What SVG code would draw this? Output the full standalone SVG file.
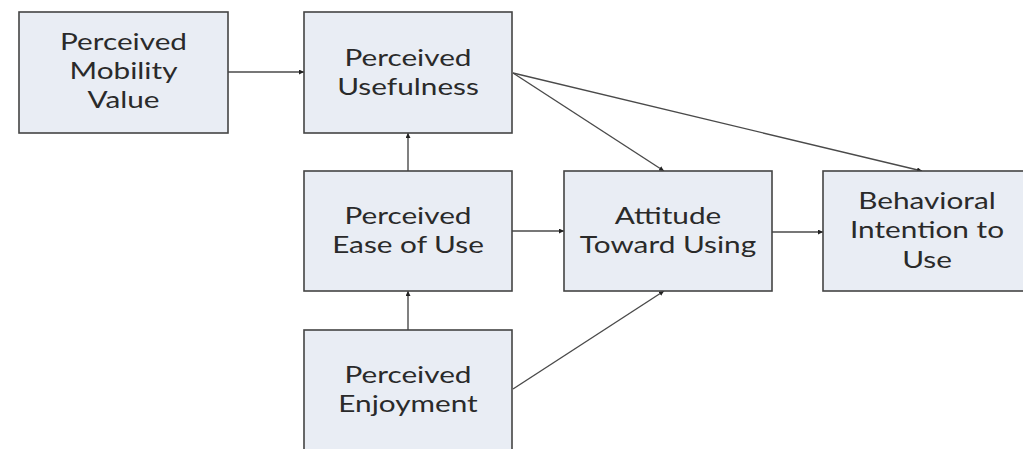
<svg xmlns="http://www.w3.org/2000/svg" width="1023" height="449" viewBox="0 0 1023 449">
<defs>
<marker id="ah" viewBox="0 0 10 10" refX="10" refY="5" markerWidth="5" markerHeight="5" markerUnits="userSpaceOnUse" orient="auto">
<path d="M0,0 L10,5 L0,10 z" fill="#222"/>
</marker>
<style>
.box{fill:#e9edf4;stroke:#444;stroke-width:1.6}
.lbl{font-family:Lato,"Open Sans",sans-serif;font-size:24px;fill:#2a2a2a;text-anchor:middle}
.con{stroke:#4a4a4a;stroke-width:1.4;fill:none;marker-end:url(#ah)}
</style>
</defs>
<rect width="1023" height="449" fill="#ffffff"/>
<g id="connectors">
<line class="con" x1="228" y1="72" x2="304" y2="72"/>
<line class="con" x1="408" y1="171" x2="408" y2="133"/>
<line class="con" x1="408" y1="330" x2="408" y2="291"/>
<line class="con" x1="512" y1="231" x2="564" y2="231"/>
<line class="con" x1="772" y1="232" x2="823" y2="232"/>
<line class="con" x1="513" y1="73" x2="664" y2="171"/>
<line class="con" x1="513" y1="73" x2="922" y2="171"/>
<line class="con" x1="513" y1="389" x2="664" y2="291"/>
</g>
<g id="mobility">
<rect class="box" x="19" y="12" width="209" height="121"/>
<g transform="translate(123.5,0) scale(1.24,1)"><text class="lbl" x="0" y="50.5">Perceived</text><text class="lbl" x="0" y="79.5">Mobility</text><text class="lbl" x="0" y="108.5">Value</text></g>
</g>
<g id="usefulness">
<rect class="box" x="304" y="12" width="208" height="121"/>
<g transform="translate(408,0) scale(1.24,1)"><text class="lbl" x="0" y="66">Perceived</text><text class="lbl" x="0" y="95">Usefulness</text></g>
</g>
<g id="ease">
<rect class="box" x="304" y="171" width="208" height="120"/>
<g transform="translate(408,0) scale(1.24,1)"><text class="lbl" x="0" y="224.5">Perceived</text><text class="lbl" x="0" y="253.5">Ease of Use</text></g>
</g>
<g id="enjoyment">
<rect class="box" x="304" y="330" width="208" height="125"/>
<g transform="translate(408,0) scale(1.24,1)"><text class="lbl" x="0" y="383.5">Perceived</text><text class="lbl" x="0" y="412.5">Enjoyment</text></g>
</g>
<g id="attitude">
<rect class="box" x="564" y="171" width="208" height="120"/>
<g transform="translate(668,0) scale(1.24,1)"><text class="lbl" x="0" y="224.5">Attitude</text><text class="lbl" x="0" y="253.5">Toward Using</text></g>
</g>
<g id="intention">
<rect class="box" x="823" y="171" width="210" height="120"/>
<g transform="translate(927,0) scale(1.24,1)"><text class="lbl" x="0" y="209">Behavioral</text><text class="lbl" x="0" y="238.5">Intention to</text><text class="lbl" x="0" y="268">Use</text></g>
</g>
</svg>
